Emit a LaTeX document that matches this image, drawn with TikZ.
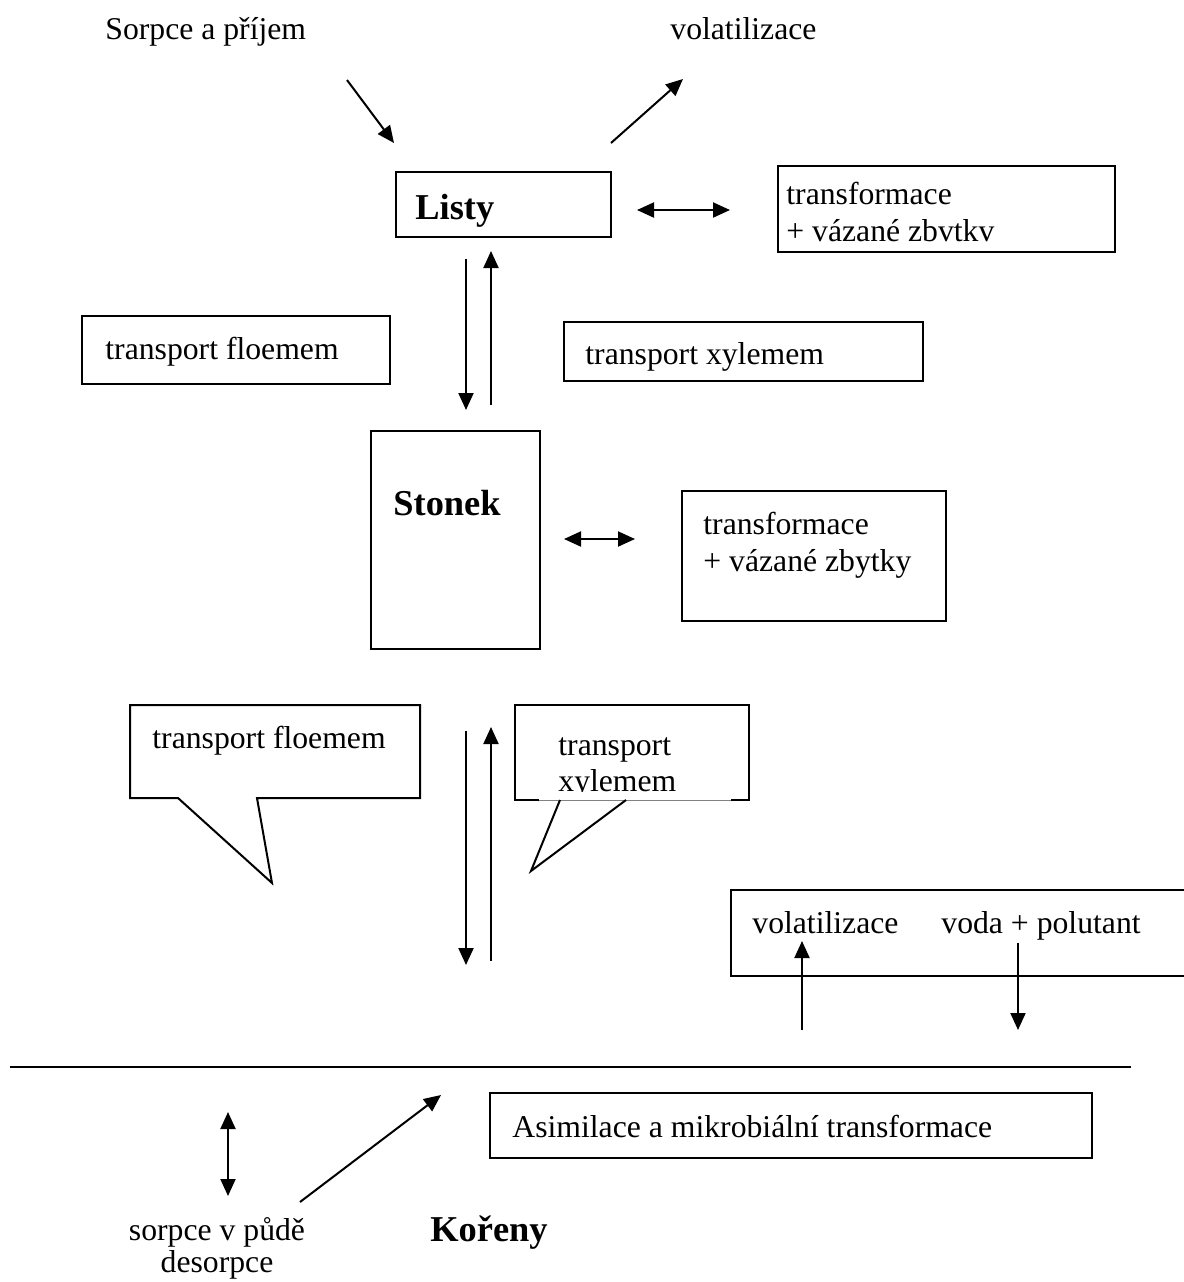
\documentclass[tikz,border=0pt]{standalone}
\usepackage{fontspec}
\setmainfont{Liberation Serif}
\usetikzlibrary{arrows.meta,fit}
\begin{document}
\begin{tikzpicture}[x=0.5pt,y=-0.5pt,
  lbl/.style={anchor=mid west, inner sep=0pt, font=\fontsize{15.85}{18.5}\selectfont},
  clbl/.style={anchor=mid, inner sep=0pt, font=\fontsize{15.85}{18.5}\selectfont},
  bold/.style={anchor=mid west, inner sep=0pt, font=\fontsize{18.2}{21}\selectfont\bfseries},
  frame/.style={draw, line width=1pt, inner sep=0pt},
  tip/.tip={Triangle[length=8.5pt,width=7.5pt]},
  arr/.style={line width=1pt, -tip},
  darr/.style={line width=1pt, tip-tip},
]
\useasboundingbox (0,0) rectangle (1184,1282);
% top labels
\node[lbl] (sorpce) at (105,35) {Sorpce a příjem};
\node[lbl] (volat) at (670,35) {volatilizace};
\coordinate (a1s) at (347,80); \coordinate (a1e) at (394,143);
\coordinate (a2s) at (611,143); \coordinate (a2e) at (683,79);
\draw[arr] (a1s) -- (a1e);
\draw[arr] (a2s) -- (a2e);
% Listy
\node[frame, fit={(396,172) (611,237)}] (listy) {};
\node[bold] (listyt) at (415,215) {Listy};
\coordinate (d1s) at (637,210); \coordinate (d1e) at (730,210);
\draw[darr] (d1s) -- (d1e);
\node[frame, fit={(778,166) (1115,252)}] (tr1) {};
\node[lbl] (tr1a) at (786,200) {transformace};
\node[lbl] (tr1b) at (786,237) {+ vázané zbvtkv};
% upper vertical arrows
\coordinate (v1s) at (466,259); \coordinate (v1e) at (466,410);
\coordinate (v2s) at (491,405); \coordinate (v2e) at (491,251);
\draw[arr] (v1s) -- (v1e);
\draw[arr] (v2s) -- (v2e);
\node[frame, fit={(82,316) (390,384)}] (flo1) {};
\node[lbl] (flo1t) at (105,355) {transport floemem};
\node[frame, fit={(564,322) (923,381)}] (xyl1) {};
\node[lbl] (xyl1t) at (585,360) {transport xylemem};
% Stonek
\node[frame, fit={(371,431) (540,649)}] (stonek) {};
\node[bold] (stonekt) at (393,511) {Stonek};
\coordinate (d2s) at (564,539); \coordinate (d2e) at (635,539);
\draw[darr] (d2s) -- (d2e);
\node[frame, fit={(682,491) (946,621)}] (tr2) {};
\node[lbl] (tr2a) at (703,530) {transformace};
\node[lbl] (tr2b) at (703,567) {+ vázané zbytky};
% callout 1
\draw[line width=1pt] (130,705) -- (420,705) -- (420,798) -- (257,798) -- (272,883) -- (178,798) -- (130,798) -- cycle;
\node[lbl] (flo2t) at (152,744) {transport floemem};
% lower vertical arrows
\coordinate (v3s) at (466,731); \coordinate (v3e) at (466,965);
\coordinate (v4s) at (491,961); \coordinate (v4e) at (491,727);
\draw[arr] (v3s) -- (v3e);
\draw[arr] (v4s) -- (v4e);
% callout 2
\node[lbl] (xyl2a) at (558,751) {transport};
\begin{scope}
\clip (540,700) rectangle (745,791);
\node[lbl] (xyl2b) at (558,787) {xylemem};
\end{scope}
\draw[line width=1pt] (539,800) -- (515,800) -- (515,705) -- (749,705) -- (749,800) -- (731,800);
\draw[gray, line width=0.5pt] (539,800) -- (731,800);
\draw[line width=1pt] (560,800) -- (531,871) -- (626,800);
% right box
\draw[line width=1pt] (1190,890) -- (731,890) -- (731,976) -- (1190,976);
\node[lbl] (vol2) at (752,929) {volatilizace};
\node[lbl] (voda) at (941,929) {voda + polutant};
\coordinate (v5s) at (802,1030); \coordinate (v5e) at (802,941);
\coordinate (v6s) at (1018,943); \coordinate (v6e) at (1018,1030);
\draw[arr] (v5s) -- (v5e);
\draw[arr] (v6s) -- (v6e);
% ground line
\coordinate (g1) at (10,1067); \coordinate (g2) at (1131,1067);
\draw[line width=1pt] (g1) -- (g2);
% roots
\coordinate (d3s) at (228,1112); \coordinate (d3e) at (228,1196);
\draw[darr] (d3s) -- (d3e);
\coordinate (a3s) at (300,1202); \coordinate (a3e) at (441,1095);
\draw[arr] (a3s) -- (a3e);
\node[frame, fit={(490,1093) (1092,1158)}] (asim) {};
\node[lbl] (asimt) at (512,1133) {Asimilace a mikrobiální transformace};
\node[clbl] (sorp2) at (217,1236) {sorpce v půdě};
\node[clbl] (desorp) at (217,1268) {desorpce};
\node[bold] (koreny) at (430,1237) {Kořeny};
\end{tikzpicture}
\end{document}
